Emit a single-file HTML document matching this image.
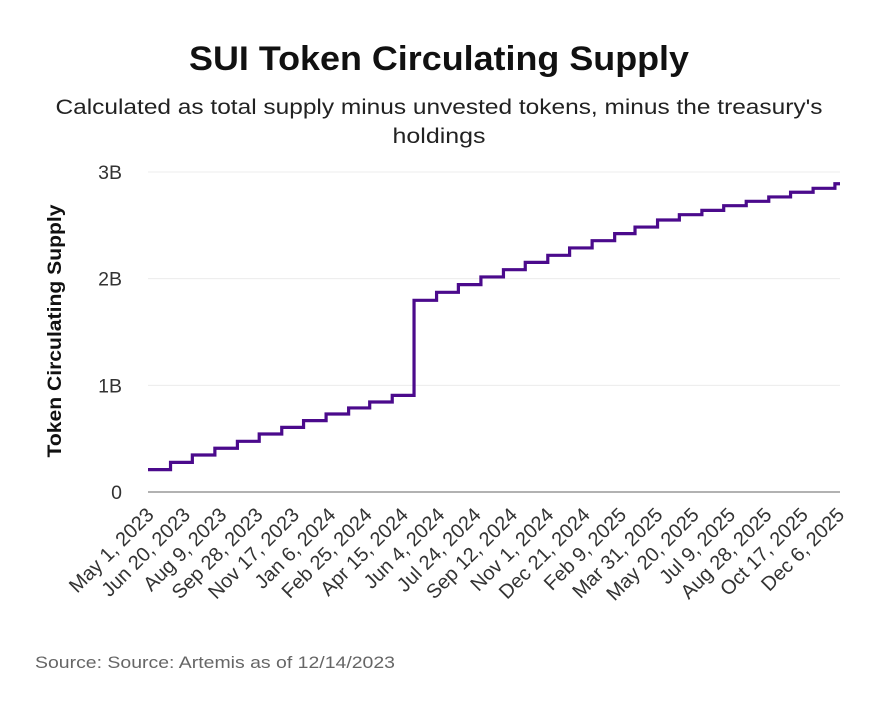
<!DOCTYPE html>
<html><head><meta charset="utf-8"><style>
body{margin:0;background:#fff;font-family:"Liberation Sans",sans-serif;}
#wrap{position:relative;width:878px;height:705px;overflow:hidden}
</style></head><body>
<div id="wrap">
<svg id="chart" width="878" height="705">
<text x="439" y="70" text-anchor="middle" font-size="34" font-weight="bold" fill="#111" textLength="500" lengthAdjust="spacingAndGlyphs">SUI Token Circulating Supply</text>
<text x="439" y="114" text-anchor="middle" font-size="21" fill="#222" textLength="767" lengthAdjust="spacingAndGlyphs">Calculated as total supply minus unvested tokens, minus the treasury's</text>
<text x="439" y="143" text-anchor="middle" font-size="21" fill="#222" textLength="93" lengthAdjust="spacingAndGlyphs">holdings</text>
<text transform="translate(61,331) rotate(-90)" text-anchor="middle" font-size="19" font-weight="bold" fill="#111" textLength="253" lengthAdjust="spacingAndGlyphs">Token Circulating Supply</text>
<text x="35" y="668" font-size="16.5" fill="#666" textLength="360" lengthAdjust="spacingAndGlyphs">Source: Source: Artemis as of 12/14/2023</text>
<g id="grid"></g><g id="xt"></g><path id="line" fill="none" stroke="#4b0a8c" stroke-width="3.2"/>
</svg>
</div>
<script>
const yTicks=[0,1,2,3];
const yTickLabels=["0","1B","2B","3B"];
const xTickLabels=["May 1, 2023","Jun 20, 2023","Aug 9, 2023","Sep 28, 2023","Nov 17, 2023","Jan 6, 2024","Feb 25, 2024","Apr 15, 2024","Jun 4, 2024","Jul 24, 2024","Sep 12, 2024","Nov 1, 2024","Dec 21, 2024","Feb 9, 2025","Mar 31, 2025","May 20, 2025","Jul 9, 2025","Aug 28, 2025","Oct 17, 2025","Dec 6, 2025"];
const stepDates=["2023-05-01","2023-06-01","2023-07-01","2023-08-01","2023-09-01","2023-10-01","2023-11-01","2023-12-01","2024-01-01","2024-02-01","2024-03-01","2024-04-01","2024-05-01","2024-06-01","2024-07-01","2024-08-01","2024-09-01","2024-10-01","2024-11-01","2024-12-01","2025-01-01","2025-02-01","2025-03-01","2025-04-01","2025-05-01","2025-06-01","2025-07-01","2025-08-01","2025-09-01","2025-10-01","2025-11-01","2025-12-01"];
const supplyB=[0.21,0.278,0.347,0.41,0.475,0.544,0.606,0.669,0.731,0.788,0.844,0.906,1.797,1.872,1.944,2.016,2.084,2.153,2.219,2.288,2.356,2.422,2.484,2.55,2.6,2.64,2.684,2.725,2.766,2.81,2.847,2.89];
const endDate="2025-12-08";
const t0=Date.parse("2023-05-01"),t1=Date.parse(endDate);
const X0=148,X1=840,Y0=492,Y3=172;
const xs=d=>X0+(Date.parse(d)-t0)/(t1-t0)*(X1-X0);
const xd=days=>X0+days*86400000/(t1-t0)*(X1-X0);
const ys=v=>Y0-(v/3)*(Y0-Y3);
const NS="http://www.w3.org/2000/svg";
const grid=document.getElementById('grid'),xt=document.getElementById('xt');
yTicks.forEach((v,i)=>{
 const l=document.createElementNS(NS,'line');
 
 
 l.setAttribute('x1',X0);l.setAttribute('x2',X1);l.setAttribute('y1',ys(v));l.setAttribute('y2',ys(v));
 l.setAttribute('stroke',v===0?'#999':'#ececec');l.setAttribute('stroke-width',v===0?1.5:1);
 grid.appendChild(l);
 const t=document.createElementNS(NS,'text');
 
 
 t.setAttribute('x',122);t.setAttribute('y',ys(v)+7);t.setAttribute('text-anchor','end');
 t.setAttribute('font-size','19.5');t.setAttribute('fill','#333');t.textContent=yTickLabels[i];
 grid.appendChild(t);
});
xTickLabels.forEach((s,i)=>{
 const x=xd(i*50);
 const t=document.createElementNS(NS,'text');
 
 
 t.setAttribute('transform',`translate(${x+7},${516}) rotate(-45)`);
 t.setAttribute('text-anchor','end');t.setAttribute('font-size','20');t.setAttribute('fill','#333');
 t.textContent=s;xt.appendChild(t);
});
let d='';
supplyB.forEach((v,i)=>{
 const x=xs(stepDates[i]);
 d+=(i===0?`M${x},${ys(v)}`:`V${ys(v)}`);
 const nx=i<supplyB.length-1?xs(stepDates[i+1]):X1;
 d+=`H${nx}`;
});
document.getElementById('line').setAttribute('d',d);
</script>
</body></html>
